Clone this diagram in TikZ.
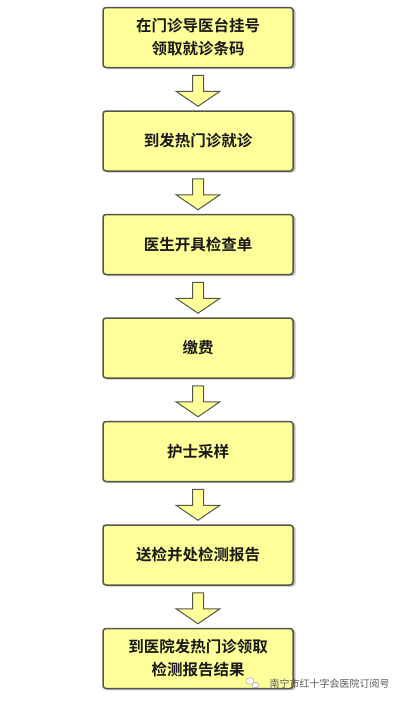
\documentclass[tikz,border=0pt]{standalone}
\usepackage{fontspec}
\usetikzlibrary{calc,shapes.geometric}
\newfontfamily\cjk{Noto Sans CJK SC}[BoldFont={Noto Sans CJK SC Bold}]
\begin{document}
\begin{tikzpicture}[x=1pt,y=-1pt,
  stepbox/.style={draw=boxline,line width=1.5pt,fill=boxfill,rounded corners=3pt,
    minimum width=190pt,minimum height=60pt,inner sep=0pt,align=center,
    font=\cjk\bfseries\fontsize{15.5}{23}\selectfont,text=black!90},
  flowarrow/.style={draw=boxline,line width=1pt,fill=boxfill,line join=miter}
]
\definecolor{boxfill}{HTML}{FFFF99}
\definecolor{boxline}{HTML}{55554A}
\useasboundingbox[fill=white] (0,0) rectangle (400,702);
\foreach \i/\t in {1/{在门诊导医台挂号\\领取就诊条码},2/{到发热门诊就诊},3/{医生开具检查单},4/{缴费},5/{护士采样},6/{送检并处检测报告},7/{到医院发热门诊领取\\检测报告结果}}{
  \fill[black!25,rounded corners=3pt] (103.5+1.5,{7+(\i-1)*103.5+1.5}) rectangle ++(190.5,60.5);
  \node[stepbox] (b\i) at (198,{37.5+(\i-1)*103.5}) {\t};
}
\foreach \i [evaluate=\i as \j using int(\i+1)] in {1,...,6}{
  \coordinate (s\i) at ($(b\i.south)+(0,7)$);
  \draw[flowarrow] ($(s\i)+(-5.5,0)$) -- ($(s\i)+(5.5,0)$) -- ($(s\i)+(5.5,16)$) -- ($(s\i)+(22,16)$)
     -- ($(b\j.north)+(0,-4)$) -- ($(s\i)+(-22,16)$) -- ($(s\i)+(-5.5,16)$) -- cycle;
}
\node[font=\cjk\fontsize{10}{12}\selectfont,text=black!65,anchor=west] (wm) at (266,684) {南宁市红十字会医院订阅号};
\node[draw=black!45,fill=white,ellipse,minimum width=8pt,minimum height=6.5pt,inner sep=0pt] (ic1) at (250,681) {};
\node[draw=black!45,fill=white,ellipse,minimum width=7pt,minimum height=5.5pt,inner sep=0pt] (ic2) at (255.5,685) {};
\end{tikzpicture}
\end{document}
